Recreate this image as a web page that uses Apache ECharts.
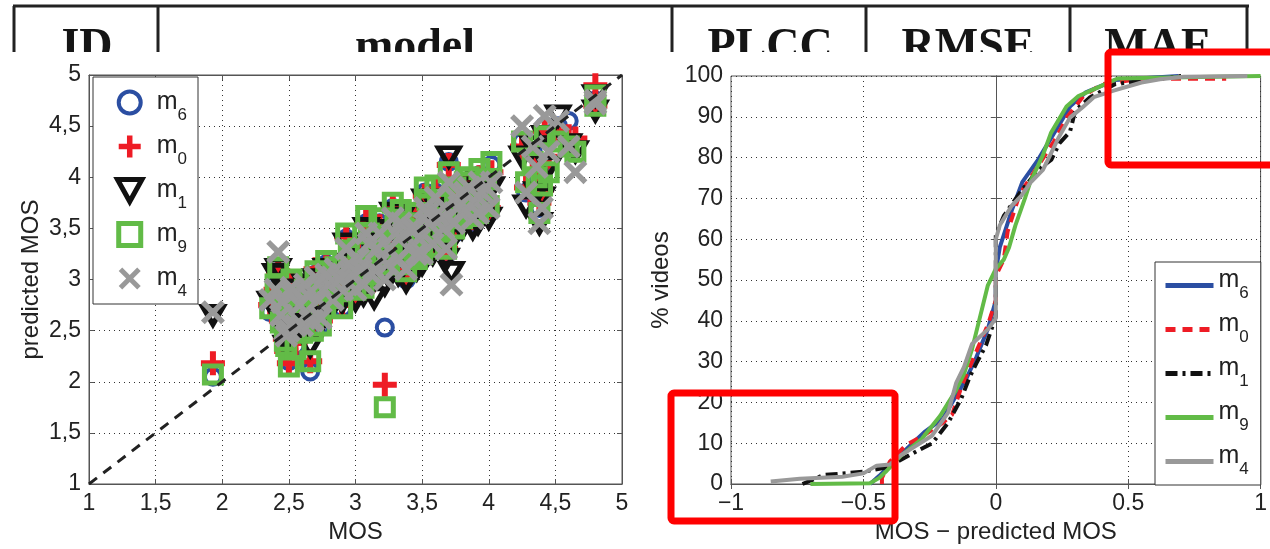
<!DOCTYPE html>
<html>
<head>
    <meta charset="utf-8" />
    <title>MOS scatter and error CDF</title>
    <script src="https://cdn.jsdelivr.net/npm/echarts@6/dist/echarts.min.js"></script>
    <style>
        html, body { margin: 0; padding: 0; background: #fff; }
        #chart { width: 1270px; height: 549px; }
    </style>
</head>
<body>
    <div id="chart"></div>
    <script>
        // table header (cut off at the top of the figure)
        var headerTexts = ['ID', 'model', 'PLCC', 'RMSE', 'MAE'];

        // scatter: one entry per video
        var mos   = [1.93, 2.36, 2.40, 2.42, 2.44, 2.47, 2.48, 2.50, 2.53, 2.55, 2.58, 2.62, 2.66, 2.70, 2.72, 2.76, 2.80, 2.85, 2.90, 2.93,
                     2.97, 3.02, 3.06, 3.10, 3.14, 3.18, 3.22, 3.25, 3.28, 3.32, 3.36, 3.40, 3.45, 3.48, 3.52, 3.55, 3.58, 3.62, 3.66, 3.70,
                     3.72, 3.75, 3.80, 3.85, 3.90, 3.95, 4.00, 4.02, 4.25, 4.28, 4.33, 4.36, 4.38, 4.42, 4.40, 4.45, 4.52, 4.60, 4.65, 4.80,
                     4.80, 2.45, 2.60, 2.68, 2.83, 3.00, 3.12, 3.20, 3.30, 3.38, 3.50, 3.60, 3.68, 3.78, 3.88, 3.93,
                     2.52, 2.64, 2.74, 2.78, 2.88, 2.95, 3.04, 3.08, 3.16, 3.24, 3.34, 3.42, 3.46, 3.54, 3.64, 3.74, 3.82, 3.92, 3.98];
        var predM6 = [2.05, 2.68, 2.85, 3.05, 2.55, 2.40, 2.30, 2.20, 2.75, 2.35, 2.60, 2.90, 2.10, 3.05, 2.70, 2.85, 2.95, 3.10, 2.72, 3.40,
                     3.00, 3.25, 2.88, 3.40, 3.15, 3.55, 2.53, 3.30, 3.70, 3.10, 3.45, 3.25, 3.60, 3.35, 3.85, 3.55, 3.30, 3.70, 3.45, 4.15,
                     3.60, 3.85, 3.55, 3.95, 3.70, 3.80, 3.65, 4.12, 4.35, 3.85, 4.25, 4.00, 3.70, 4.50, 3.90, 4.15, 4.50, 4.55, 4.30, 4.75,
                     4.68, 2.75, 2.45, 2.50, 2.78, 2.85, 3.00, 3.20, 3.50, 3.00, 3.20, 3.85, 3.25, 3.75, 3.55, 4.02,
                     2.95, 2.80, 2.55, 3.15, 2.95, 3.20, 3.05, 3.55, 3.30, 3.10, 3.65, 3.50, 3.15, 3.70, 3.55, 3.45, 3.90, 3.60, 3.95];
        var predM0 = [2.18, 2.75, 2.90, 3.08, 2.60, 2.42, 2.30, 2.18, 2.72, 2.38, 2.65, 2.88, 2.20, 3.10, 2.75, 2.80, 2.98, 3.05, 2.75, 3.42,
                     3.02, 3.28, 2.90, 3.38, 3.12, 3.52, 1.97, 3.32, 3.72, 3.12, 3.45, 3.28, 3.62, 3.38, 3.82, 3.52, 3.28, 3.72, 3.48, 4.12,
                     3.60, 3.88, 3.58, 3.98, 3.72, 3.85, 3.70, 4.05, 4.30, 3.90, 4.20, 4.05, 3.75, 4.45, 3.88, 4.20, 4.45, 4.40, 4.38, 4.90,
                     4.70, 2.78, 2.50, 2.55, 2.80, 2.88, 3.02, 3.22, 3.52, 3.05, 3.22, 3.88, 3.30, 3.78, 3.60, 4.00,
                     2.98, 2.82, 2.60, 3.12, 2.92, 3.22, 3.08, 3.58, 3.35, 3.12, 3.62, 3.48, 3.18, 3.72, 3.58, 3.50, 3.92, 3.62, 3.90];
        var predM1 = [2.65, 2.78, 3.05, 3.10, 2.62, 2.45, 2.35, 2.40, 2.80, 2.50, 2.70, 2.95, 2.35, 3.00, 2.78, 2.82, 2.90, 3.08, 2.78, 3.35,
                     2.98, 3.20, 2.85, 3.35, 2.82, 3.48, 2.95, 3.25, 3.65, 3.05, 3.40, 3.20, 3.55, 3.30, 3.78, 3.50, 3.25, 3.68, 3.40, 4.20,
                     3.07, 3.80, 3.50, 3.90, 3.68, 3.75, 3.60, 3.90, 4.20, 3.72, 4.30, 3.85, 3.55, 4.40, 3.80, 4.10, 4.60, 4.32, 4.25, 4.80,
                     4.65, 2.70, 2.50, 2.60, 2.75, 2.80, 2.95, 3.15, 3.45, 2.98, 3.15, 3.75, 3.20, 3.70, 3.50, 3.95,
                     2.90, 2.78, 2.58, 3.10, 2.90, 3.15, 3.00, 3.50, 3.25, 3.05, 3.60, 3.45, 3.10, 3.65, 3.50, 3.42, 3.85, 3.55, 3.88];
        var predM9 = [2.07, 2.72, 2.95, 3.12, 2.58, 2.40, 2.35, 2.15, 2.78, 2.32, 2.68, 2.90, 2.20, 3.08, 2.72, 2.88, 3.00, 3.12, 2.72, 3.45,
                     3.05, 3.30, 2.92, 3.45, 3.18, 3.60, 1.75, 3.35, 3.75, 3.15, 3.50, 3.30, 3.65, 3.42, 3.90, 3.58, 3.32, 3.75, 3.50, 4.05,
                     3.62, 3.90, 3.60, 4.00, 3.75, 3.90, 3.72, 4.15, 4.35, 3.95, 4.15, 4.00, 3.65, 4.40, 3.92, 4.05, 4.35, 4.30, 4.25, 4.80,
                     4.70, 2.80, 2.48, 2.50, 2.82, 2.90, 3.05, 3.25, 3.55, 3.08, 3.25, 3.92, 3.30, 3.80, 3.62, 4.08,
                     3.00, 2.85, 2.55, 3.18, 2.98, 3.25, 3.10, 3.62, 3.40, 3.15, 3.68, 3.55, 3.20, 3.78, 3.60, 3.50, 3.95, 3.65, 3.98];
        var predM4 = [2.68, 2.80, 2.90, 3.27, 2.65, 2.50, 2.45, 2.50, 2.85, 2.55, 2.75, 2.95, 2.60, 3.02, 2.80, 2.90, 2.95, 3.10, 2.90, 3.30,
                     3.05, 3.20, 2.95, 3.35, 3.10, 3.45, 3.00, 3.30, 3.60, 3.20, 3.45, 3.30, 3.50, 3.40, 3.70, 3.55, 3.35, 3.65, 3.50, 3.95,
                     2.95, 3.80, 3.65, 3.90, 3.75, 3.85, 3.70, 3.95, 4.50, 3.85, 4.30, 4.10, 3.55, 4.60, 3.70, 4.25, 4.55, 4.30, 4.05, 4.72,
                     4.75, 2.78, 2.55, 2.60, 2.80, 2.90, 3.05, 3.20, 3.45, 3.10, 3.25, 3.80, 3.30, 3.72, 3.60, 3.95,
                     2.92, 2.85, 2.62, 3.05, 3.00, 3.15, 3.10, 3.45, 3.30, 3.15, 3.55, 3.50, 3.25, 3.65, 3.60, 3.55, 3.85, 3.65, 3.90];

        // CDF of MOS - predicted MOS, [error, % videos]
        var cdfM6 = [[-0.475, 0], [-0.44, 2], [-0.40, 4.6], [-0.33, 9], [-0.27, 12.7], [-0.20, 16], [-0.15, 21.6], [-0.11, 26],
                     [-0.074, 31], [-0.03, 38], [0, 45], [0, 52], [0.015, 58], [0.06, 67], [0.10, 74], [0.16, 79.5], [0.22, 86],
                     [0.28, 92.5], [0.34, 96], [0.45, 99], [0.69, 100]];
        var cdfM0 = [[-0.43, 0], [-0.43, 1.5], [-0.40, 5.5], [-0.34, 9.5], [-0.27, 12], [-0.20, 15], [-0.165, 17], [-0.134, 23],
                     [-0.09, 30], [-0.03, 39], [0, 45], [0, 51], [0.03, 55], [0.045, 62], [0.09, 71], [0.15, 77], [0.22, 84],
                     [0.27, 90], [0.33, 95], [0.40, 98], [0.55, 99.3], [0.87, 99.3]];
        var cdfM1 = [[-0.73, 0], [-0.65, 2.2], [-0.50, 3], [-0.42, 4], [-0.37, 5.5], [-0.30, 8], [-0.24, 10], [-0.18, 15],
                     [-0.13, 21], [-0.10, 26], [-0.074, 29.5], [-0.037, 34], [0, 41], [0, 61], [0.03, 65.7], [0.09, 71.3],
                     [0.16, 77], [0.21, 79.5], [0.24, 83.5], [0.28, 86.3], [0.30, 91.5], [0.356, 94.8], [0.45, 98], [0.70, 100]];
        var cdfM9 = [[-0.70, 0], [-0.475, 0.2], [-0.44, 1.5], [-0.416, 3], [-0.357, 7], [-0.28, 11], [-0.21, 16.7], [-0.15, 23],
                     [-0.12, 27], [-0.09, 33], [-0.067, 39], [-0.03, 48.7], [0, 52.7], [0.03, 55], [0.05, 58], [0.074, 63.4],
                     [0.11, 70], [0.13, 74], [0.178, 80.6], [0.208, 86], [0.267, 92.5], [0.31, 95], [0.386, 97.2], [0.46, 99.4],
                     [0.60, 99.6], [1.0, 100]];
        var cdfM4 = [[-0.85, 0.6], [-0.74, 1.3], [-0.58, 1.8], [-0.50, 2.6], [-0.45, 4.5], [-0.40, 4.8], [-0.36, 7], [-0.30, 9.4],
                     [-0.24, 11.9], [-0.18, 17.5], [-0.15, 24.7], [-0.12, 28.7], [-0.09, 34.3], [-0.03, 37.9], [0, 40.6], [0, 60],
                     [0.015, 63.4], [0.06, 68.2], [0.096, 70.6], [0.13, 73.8], [0.178, 77], [0.208, 81], [0.238, 85], [0.28, 89.8],
                     [0.327, 92.3], [0.37, 94.8], [0.445, 96.4], [0.55, 98.4], [0.62, 99.2], [0.71, 99.8], [0.95, 100]];

        var models = ['m6', 'm0', 'm1', 'm9', 'm4'];
        var colors = { m6: '#2b4ea2', m0: '#ee1c25', m1: '#111111', m9: '#62bb47', m4: '#999999' };

        var FONT = '"Liberation Sans", Arial, sans-serif';

        var plusPath = 'path://M3,0H5V3H8V5H5V8H3V5H0V3H3Z';
        var crossPath = 'path://M0,1.6L1.6,0L5,3.4L8.4,0L10,1.6L6.6,5L10,8.4L8.4,10L5,6.6L1.6,10L0,8.4L3.4,5Z';
        var triPath = 'path://M0,0L10,0L5,9Z';
        var squarePath = 'path://M0,0H10V10H0Z';

        function zip(xs, ys) {
            var out = [];
            for (var i = 0; i < xs.length; i++) out.push([xs[i], ys[i]]);
            return out;
        }

        // marker look per model (scatter)
        var markers = {
            m6: { symbol: 'circle', symbolSize: 16, itemStyle: { color: 'transparent', borderColor: colors.m6, borderWidth: 4, opacity: 1 } },
            m0: { symbol: plusPath, symbolSize: 24, itemStyle: { color: colors.m0, opacity: 1 } },
            m1: { symbol: triPath, symbolSize: [21, 18], itemStyle: { color: 'transparent', borderColor: colors.m1, borderWidth: 5, opacity: 1 } },
            m9: { symbol: squarePath, symbolSize: 17, itemStyle: { color: 'transparent', borderColor: colors.m9, borderWidth: 5, opacity: 1 } },
            m4: { symbol: crossPath, symbolSize: 24, itemStyle: { color: colors.m4, opacity: 1 } }
        };
        var preds = { m6: predM6, m0: predM0, m1: predM1, m9: predM9, m4: predM4 };
        var cdfs = { m6: cdfM6, m0: cdfM0, m1: cdfM1, m9: cdfM9, m4: cdfM4 };
        var lineTypes = { m6: 'solid', m0: [10, 7], m1: [12, 5, 3, 5], m9: 'solid', m4: 'solid' };

        function subName(name) {
            return '{m|m}{s|' + name.charAt(1) + '}';
        }

        var series = [];
        models.forEach(function (m) {
            series.push({
                name: m,
                type: 'scatter',
                xAxisIndex: 0,
                yAxisIndex: 0,
                symbol: markers[m].symbol,
                symbolSize: markers[m].symbolSize,
                itemStyle: markers[m].itemStyle,
                data: zip(mos, preds[m]),
                silent: true,
                z: 2
            });
        });
        series.push({
            name: 'diag',
            type: 'line',
            xAxisIndex: 0,
            yAxisIndex: 0,
            data: [[1, 1], [5, 5]],
            symbol: 'none',
            lineStyle: { color: '#222', width: 3, type: [10, 8] },
            silent: true,
            z: 5
        });
        models.forEach(function (m) {
            series.push({
                name: m + ' cdf',
                type: 'line',
                xAxisIndex: 2,
                yAxisIndex: 2,
                data: cdfs[m],
                symbol: 'none',
                showSymbol: false,
                lineStyle: { color: colors[m], width: 4, type: lineTypes[m] },
                itemStyle: { color: colors[m] },
                silent: true,
                z: 3
            });
        });

        function frameAxis(gridIndex, position, min, max, interval) {
            return {
                type: 'value', gridIndex: gridIndex, position: position,
                min: min, max: max, interval: interval,
                axisLine: { show: true, lineStyle: { color: '#555', width: 1 } },
                axisTick: { show: true, inside: true, length: 5, lineStyle: { color: '#555' } },
                axisLabel: { show: false },
                splitLine: { show: false }
            };
        }

        var dotted = { show: true, lineStyle: { color: '#333', width: 1, type: [1, 4] } };
        var labelStyle = { color: '#222', fontSize: 23, fontFamily: FONT };
        var nameStyle = { color: '#222', fontSize: 24, fontFamily: FONT };
        var legendRich = {
            m: { fontSize: 25, fontFamily: FONT, color: '#222' },
            s: { fontSize: 17, fontFamily: FONT, color: '#222', lineHeight: 17, padding: [26, 0, 0, 0] }
        };
        var legendRich2 = {
            m: { fontSize: 25, fontFamily: FONT, color: '#222', lineHeight: 25, padding: [0, 0, 10, 0] },
            s: { fontSize: 17, fontFamily: FONT, color: '#222', lineHeight: 17, padding: [16, 0, 0, 0] }
        };

        var graphics = [];
        var headerX = [87, 415, 770, 968, 1158];
        headerTexts.forEach(function (t, i) {
            graphics.push({
                type: 'text', x: headerX[i], y: 25, z: 100,
                style: { text: t, font: 'bold 46px "Liberation Serif", "Times New Roman", serif', fill: '#151515', textAlign: 'center', textVerticalAlign: 'top' }
            });
        });
        graphics.push({ type: 'rect', z: 101, shape: { x: 0, y: 52, width: 1270, height: 10 }, style: { fill: '#fff' } });
        graphics.push({ type: 'line', z: 102, shape: { x1: 13, y1: 6, x2: 1249, y2: 6 }, style: { stroke: '#222', lineWidth: 3 } });
        [14, 158, 672, 866, 1070, 1247].forEach(function (x) {
            graphics.push({ type: 'line', z: 102, shape: { x1: x, y1: 6, x2: x, y2: 52 }, style: { stroke: '#222', lineWidth: 3 } });
        });
        // highlighted regions
        graphics.push({ type: 'rect', z: 103, shape: { x: 1108, y: 52, width: 170, height: 113, r: 3 }, style: { fill: 'none', stroke: '#ff0000', lineWidth: 7 } });
        graphics.push({ type: 'rect', z: 103, shape: { x: 671, y: 393, width: 224, height: 128, r: 3 }, style: { fill: 'none', stroke: '#ff0000', lineWidth: 7 } });

        var option = {
            backgroundColor: '#fff',
            animation: false,
            grid: [
                { left: 89, top: 75, width: 533, height: 414, show: true, borderColor: '#555', borderWidth: 1 },
                { left: 731, top: 76, width: 533, height: 413, show: true, borderColor: '#555', borderWidth: 1 }
            ],
            xAxis: [
                {
                    type: 'value', gridIndex: 0, min: 1, max: 5, interval: 0.5,
                    name: 'MOS', nameLocation: 'middle', nameGap: 36, nameTextStyle: nameStyle,
                    axisLine: { show: true, lineStyle: { color: '#555' } },
                    axisTick: { show: true, inside: true, length: 5, lineStyle: { color: '#555' } },
                    axisLabel: Object.assign({ margin: 8, formatter: function (v) { return String(v).replace('.', ','); } }, labelStyle),
                    splitLine: dotted
                },
                frameAxis(0, 'top', 1, 5, 0.5),
                {
                    type: 'value', gridIndex: 1, min: -1, max: 1, interval: 0.5,
                    name: 'MOS \u2212 predicted MOS', nameLocation: 'middle', nameGap: 36, nameTextStyle: nameStyle,
                    axisLine: { show: true, lineStyle: { color: '#555' } },
                    axisTick: { show: true, inside: true, length: 5, lineStyle: { color: '#555' } },
                    axisLabel: Object.assign({ margin: 8, formatter: function (v) { return v < 0 ? '\u2212' + (-v) : String(v); } }, labelStyle),
                    splitLine: dotted
                },
                frameAxis(1, 'top', -1, 1, 0.5)
            ],
            yAxis: [
                {
                    type: 'value', gridIndex: 0, min: 1, max: 5, interval: 0.5,
                    name: 'predicted MOS', nameLocation: 'middle', nameGap: 46, nameTextStyle: nameStyle,
                    axisLine: { show: true, lineStyle: { color: '#555' } },
                    axisTick: { show: true, inside: true, length: 5, lineStyle: { color: '#555' } },
                    axisLabel: Object.assign({ margin: 8, formatter: function (v) { return String(v).replace('.', ','); } }, labelStyle),
                    splitLine: dotted
                },
                frameAxis(0, 'right', 1, 5, 0.5),
                {
                    type: 'value', gridIndex: 1, min: 0, max: 100, interval: 10,
                    name: '% videos', nameLocation: 'middle', nameGap: 58, nameTextStyle: nameStyle,
                    axisLine: { show: true, lineStyle: { color: '#555' } },
                    axisTick: { show: true, inside: true, length: 5, lineStyle: { color: '#555' } },
                    axisLabel: Object.assign({ margin: 8 }, labelStyle),
                    splitLine: dotted
                },
                frameAxis(1, 'right', 0, 100, 10)
            ],
            legend: [
                {
                    orient: 'vertical', left: 93, top: 77,
                    backgroundColor: '#fff', borderColor: '#333', borderWidth: 1,
                    padding: [4, 11, 4, 22],
                    itemWidth: 44, itemHeight: 22, itemGap: 1,
                    selectedMode: false,
                    formatter: subName,
                    textStyle: { rich: legendRich, padding: [0, 0, 0, 0] },
                    data: models.map(function (m) {
                        return { name: m, icon: markers[m].symbol, itemStyle: markers[m].itemStyle };
                    })
                },
                {
                    orient: 'vertical', left: 1155, top: 262,
                    backgroundColor: '#fff', borderColor: '#333', borderWidth: 1,
                    padding: [6, 12, 6, 8],
                    itemWidth: 48, itemHeight: 14, itemGap: 9,
                    selectedMode: false,
                    formatter: subName,
                    textStyle: { rich: legendRich2 },
                    itemStyle: { opacity: 0 },
                    lineStyle: { width: 5 },
                    data: models.map(function (m) { return { name: m + ' cdf' }; })
                }
            ],
            graphic: { elements: graphics },
            series: series
        };

        var chart = echarts.init(document.getElementById('chart'), null, { renderer: 'canvas' });
        chart.setOption(option);
    </script>
</body>
</html>
